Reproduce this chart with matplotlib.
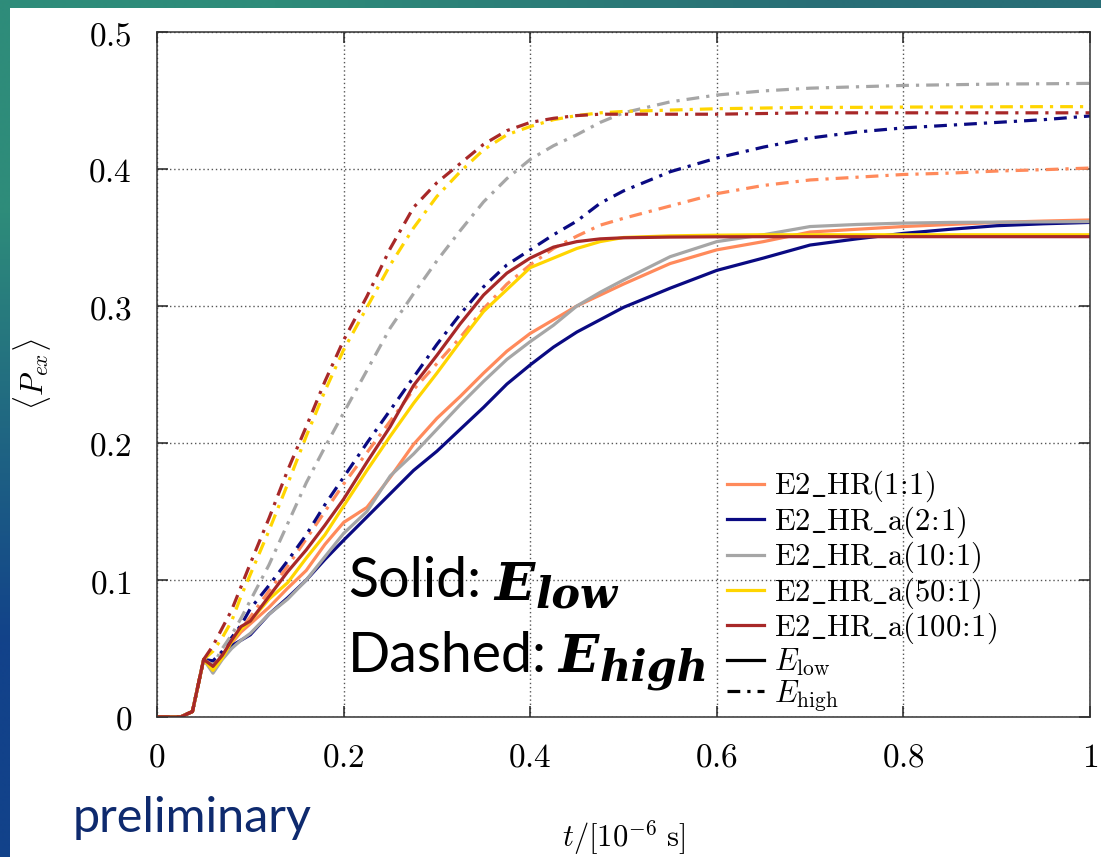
import numpy as np
import matplotlib
matplotlib.use("Agg")
import matplotlib.pyplot as plt
from matplotlib.transforms import IdentityTransform
from matplotlib.patches import Rectangle
from matplotlib.lines import Line2D
from matplotlib.ticker import FixedLocator

plt.rcParams['mathtext.fontset'] = 'cm'

# ---------------- data ----------------
t = [0, 0.025, 0.038, 0.05, 0.06, 0.07, 0.08, 0.09, 0.1, 0.12, 0.14, 0.16, 0.18, 0.2,
     0.225, 0.25, 0.275, 0.3, 0.325, 0.35, 0.375, 0.4, 0.425, 0.45, 0.475, 0.5,
     0.55, 0.6, 0.65, 0.7, 0.75, 0.8, 0.85, 0.9, 0.95, 1.0]

labels = [r'$\mathrm{E2\_HR(1\!:\!1)}$', r'$\mathrm{E2\_HR\_a(2\!:\!1)}$',
          r'$\mathrm{E2\_HR\_a(10\!:\!1)}$', r'$\mathrm{E2\_HR\_a(50\!:\!1)}$',
          r'$\mathrm{E2\_HR\_a(100\!:\!1)}$']
colors = ['#FF8A5B', '#0A0A82', '#A6A6A6', '#FFD500', '#A82828']

# E_low (solid)
low_1_1 = [0, 0, 0.004, 0.042, 0.036, 0.044, 0.054, 0.062, 0.068, 0.080, 0.094, 0.107, 0.126, 0.142,
           0.153, 0.175, 0.199, 0.218, 0.234, 0.251, 0.267, 0.280, 0.290, 0.300, 0.308, 0.316,
           0.331, 0.341, 0.347, 0.354, 0.356, 0.358, 0.3595, 0.361, 0.362, 0.3628]
low_2_1 = [0, 0, 0.004, 0.042, 0.036, 0.045, 0.052, 0.056, 0.060, 0.075, 0.087, 0.100, 0.115, 0.129,
           0.146, 0.163, 0.180, 0.194, 0.210, 0.226, 0.243, 0.257, 0.270, 0.281, 0.290, 0.299,
           0.313, 0.326, 0.335, 0.3445, 0.349, 0.353, 0.356, 0.3586, 0.360, 0.361]
low_10_1 = [0, 0, 0.004, 0.042, 0.032, 0.042, 0.050, 0.056, 0.061, 0.075, 0.086, 0.100, 0.117, 0.134,
            0.150, 0.176, 0.192, 0.210, 0.228, 0.245, 0.261, 0.274, 0.286, 0.300, 0.310, 0.319,
            0.336, 0.347, 0.352, 0.358, 0.3595, 0.3605, 0.361, 0.3612, 0.3614, 0.3616]
low_50_1 = [0, 0, 0.004, 0.042, 0.034, 0.043, 0.055, 0.064, 0.070, 0.086, 0.098, 0.116, 0.133, 0.154,
            0.180, 0.205, 0.229, 0.251, 0.274, 0.296, 0.312, 0.328, 0.335, 0.342, 0.347, 0.350,
            0.3512, 0.3517, 0.352, 0.352, 0.352, 0.352, 0.352, 0.352, 0.352, 0.352]
low_100_1 = [0, 0, 0.004, 0.042, 0.037, 0.045, 0.056, 0.066, 0.070, 0.088, 0.106, 0.122, 0.140, 0.159,
             0.186, 0.212, 0.242, 0.264, 0.287, 0.308, 0.324, 0.335, 0.343, 0.347, 0.349, 0.3498,
             0.3503, 0.3505, 0.3506, 0.3506, 0.3506, 0.3506, 0.3506, 0.3506, 0.3506, 0.3506]

# E_high (dash-dot)
high_1_1 = [0, 0, 0.004, 0.042, 0.040, 0.047, 0.056, 0.064, 0.073, 0.092, 0.110, 0.130, 0.150, 0.170,
            0.193, 0.216, 0.239, 0.258, 0.277, 0.298, 0.316, 0.330, 0.342, 0.351, 0.359, 0.364,
            0.373, 0.382, 0.388, 0.392, 0.394, 0.396, 0.397, 0.3985, 0.3995, 0.4007]
high_2_1 = [0, 0, 0.004, 0.042, 0.041, 0.048, 0.058, 0.067, 0.079, 0.096, 0.114, 0.133, 0.155, 0.175,
            0.200, 0.224, 0.248, 0.272, 0.294, 0.314, 0.330, 0.341, 0.352, 0.362, 0.375, 0.384,
            0.398, 0.408, 0.416, 0.4226, 0.427, 0.430, 0.432, 0.434, 0.436, 0.4387]
high_10_1 = [0, 0, 0.004, 0.042, 0.038, 0.050, 0.060, 0.072, 0.085, 0.111, 0.141, 0.171, 0.197, 0.222,
             0.253, 0.284, 0.309, 0.333, 0.355, 0.376, 0.393, 0.407, 0.417, 0.425, 0.434, 0.441,
             0.449, 0.454, 0.457, 0.459, 0.460, 0.461, 0.4615, 0.462, 0.4622, 0.4625]
high_50_1 = [0, 0, 0.004, 0.042, 0.048, 0.058, 0.070, 0.088, 0.104, 0.136, 0.170, 0.205, 0.238, 0.268,
             0.299, 0.330, 0.357, 0.380, 0.398, 0.414, 0.425, 0.431, 0.436, 0.439, 0.441, 0.442,
             0.443, 0.444, 0.4445, 0.445, 0.445, 0.4452, 0.4453, 0.4454, 0.4455, 0.4455]
high_100_1 = [0, 0, 0.004, 0.042, 0.052, 0.065, 0.078, 0.095, 0.112, 0.145, 0.180, 0.212, 0.245, 0.275,
              0.307, 0.342, 0.372, 0.390, 0.404, 0.418, 0.428, 0.434, 0.437, 0.439, 0.440, 0.440,
              0.440, 0.440, 0.4405, 0.441, 0.441, 0.441, 0.441, 0.441, 0.441, 0.441]

low_series = [low_1_1, low_2_1, low_10_1, low_50_1, low_100_1]
high_series = [high_1_1, high_2_1, high_10_1, high_50_1, high_100_1]

xticks = [0, 0.2, 0.4, 0.6, 0.8, 1.0]
xticklabels = ['0', '0.2', '0.4', '0.6', '0.8', '1']
yticks = [0, 0.1, 0.2, 0.3, 0.4, 0.5]
yticklabels = ['0', '0.1', '0.2', '0.3', '0.4', '0.5']

# ---------------- figure ----------------
W, H = 1101, 857
fig = plt.figure(figsize=(W / 100, H / 100), dpi=100)

# slide background gradient
bg = fig.add_axes([0, 0, 1, 1], zorder=0)
grad = np.array([[[46, 140, 122], [40, 110, 118]],
                 [[18, 66, 138], [20, 60, 120]]], dtype=float) / 255.0
bg.imshow(grad, extent=[0, 1, 0, 1], aspect='auto', interpolation='bilinear')
bg.set_xlim(0, 1)
bg.set_ylim(0, 1)
bg.axis('off')
bg.add_patch(Rectangle((10 / W, 0), 1, (H - 8) / H, transform=bg.transAxes,
                       facecolor='white', edgecolor='none', zorder=2))

ax = fig.add_axes([157 / W, (H - 717) / H, 933 / W, 685 / H], zorder=1)
ax.set_facecolor('white')

dashdot = (0, (4, 2.2, 1, 2.2))
lw = 2.3
for lowv, highv, c in zip(low_series, high_series, colors):
    ax.plot(t, lowv, color=c, lw=lw, solid_joinstyle='round')
    ax.plot(t, highv, color=c, lw=lw, linestyle=dashdot)

ax.set_xlim(0, 1)
ax.set_ylim(0, 0.5)
ax.xaxis.set_major_locator(FixedLocator(xticks))
ax.yaxis.set_major_locator(FixedLocator(yticks))
ax.set_xticklabels(['$' + s + '$' for s in xticklabels])
ax.set_yticklabels(['$' + s + '$' for s in yticklabels])
ax.tick_params(direction='in', top=True, right=True, length=8, width=1.1,
               labelsize=24, color='#222222')
ax.tick_params(axis='y', pad=18)
ax.tick_params(axis='x', pad=17)
ax.grid(True, linestyle=(0, (1, 2)), color='#555555', lw=1.0)
for sp in ax.spines.values():
    sp.set_color('#333333')
    sp.set_linewidth(1.1)

ax.set_ylabel(r'$\langle P_{ex}\rangle$', fontsize=22)
ax.yaxis.set_label_coords(-0.112, 0.5)
ax.set_xlabel(r'$t/[10^{-6}\ \mathrm{s}]$', fontsize=22)
ax.xaxis.set_label_coords(0.5, -0.148)

handles = [Line2D([], [], color=c, lw=lw) for c in colors]
handles += [Line2D([], [], color='black', lw=lw),
            Line2D([], [], color='black', lw=lw, linestyle=dashdot)]
leg_labels = labels + [r'$E_{\mathrm{low}}$', r'$E_{\mathrm{high}}$']
ax.legend(handles, leg_labels, loc='upper left', bbox_to_anchor=(0.611, 0.362),
          frameon=False, fontsize=22, handlelength=1.2, handletextpad=0.35,
          labelspacing=0.0, borderpad=0, borderaxespad=0)

# slide overlay texts
idt = IdentityTransform()
sfont = 'Lato'
fig.text(348, H - 597, 'Solid:', fontfamily=sfont, fontsize=40, transform=idt,
         va='baseline', ha='left', zorder=5)
fig.text(348, H - 672, 'Dashed:', fontfamily=sfont, fontsize=40, transform=idt,
         va='baseline', ha='left', zorder=5)

renderer = fig.canvas.get_renderer()

def math_word(x, y, sub):
    e = fig.text(x, H - y, 'E', fontfamily='DejaVu Serif', fontstyle='italic',
                 fontweight='bold', fontsize=38, transform=idt, va='baseline',
                 ha='left', zorder=5)
    bb = e.get_window_extent(renderer)
    fig.text(bb.x1 + 1, H - y - 8, sub, fontfamily='DejaVu Serif', fontstyle='italic',
             fontweight='bold', fontsize=31, transform=idt, va='baseline',
             ha='left', zorder=5)

math_word(494, 600, 'low')
math_word(558, 672, 'high')

fig.text(73, H - 832, 'preliminary', fontfamily=sfont, fontsize=35, color='#0E2A6E',
         transform=idt, va='baseline', ha='left', zorder=5)

fig.savefig('out.png', dpi=100)
